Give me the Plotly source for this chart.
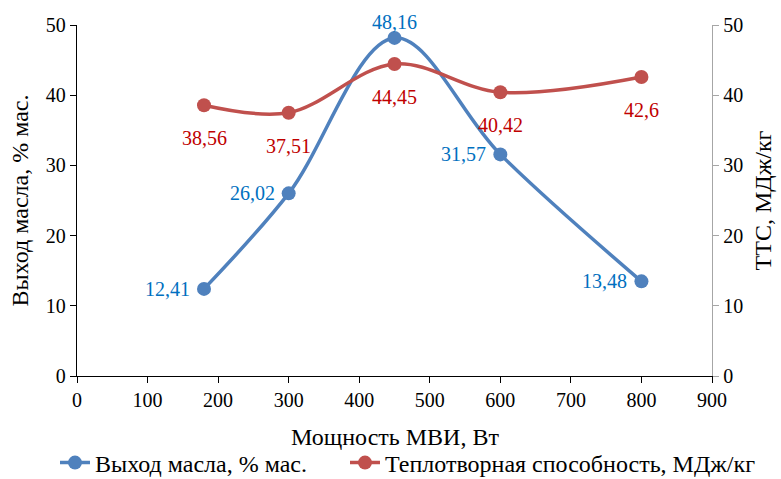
import plotly.graph_objects as go

power = [180, 300, 450, 600, 800]
oil_yield = [12.41, 26.02, 48.16, 31.57, 13.48]
heat_value = [38.56, 37.51, 44.45, 40.42, 42.6]
oil_labels = ["12,41", "26,02", "48,16", "31,57", "13,48"]
heat_labels = ["38,56", "37,51", "44,45", "40,42", "42,6"]
x_ticks = [0, 100, 200, 300, 400, 500, 600, 700, 800, 900]
y_ticks = [0, 10, 20, 30, 40, 50]
x_title = "Мощность МВИ, Вт"

FONT = "Liberation Serif, Times New Roman, serif"
BLUE = "#4F81BD"
RED = "#C0504D"
BLUE_TXT = "#0070C0"
RED_TXT = "#C00000"

fig = go.Figure()
fig.add_trace(go.Scatter(
    x=power, y=oil_yield, name="Выход масла, % мас.",
    mode="lines+markers", line=dict(color=BLUE, width=3.5, shape="spline", smoothing=1.0),
    marker=dict(color=BLUE, size=14), yaxis="y", legend="legend"))
fig.add_trace(go.Scatter(
    x=power, y=heat_value, name="Теплотворная способность, МДж/кг",
    mode="lines+markers", line=dict(color=RED, width=3.5, shape="spline", smoothing=1.0),
    marker=dict(color=RED, size=14), yaxis="y2", legend="legend2"))

anns = []
for i, (xv, yv, t) in enumerate(zip(power, oil_yield, oil_labels)):
    if i == 2:
        anns.append(dict(x=xv, y=yv, xref="x", yref="y", text=t, showarrow=False,
                         xanchor="center", yanchor="middle", yshift=16,
                         font=dict(family=FONT, size=20, color=BLUE_TXT)))
    else:
        anns.append(dict(x=xv, y=yv, xref="x", yref="y", text=t, showarrow=False,
                         xanchor="right", yanchor="middle", xshift=-12,
                         font=dict(family=FONT, size=20, color=BLUE_TXT)))
for xv, yv, t in zip(power, heat_value, heat_labels):
    anns.append(dict(x=xv, y=yv, xref="x", yref="y2", text=t, showarrow=False,
                     xanchor="center", yanchor="middle", yshift=-33,
                     font=dict(family=FONT, size=20, color=RED_TXT)))
# x-axis title placed below the tick labels
anns.append(dict(x=0.5, y=0, xref="paper", yref="paper", text=x_title, showarrow=False,
                 xanchor="center", yanchor="middle", yshift=-61,
                 font=dict(family=FONT, size=24, color="#000000")))

leg_common = dict(orientation="h", xanchor="left", xref="container",
                  y=16 / 479, yanchor="middle", yref="container",
                  font=dict(family=FONT, size=24), bgcolor="rgba(0,0,0,0)")

fig.update_layout(
    width=781, height=479,
    margin=dict(l=77, r=69, t=25, b=103, autoexpand=False),
    paper_bgcolor="white", plot_bgcolor="white",
    font=dict(family=FONT, size=20, color="#000000"),
    showlegend=True,
    legend=dict(x=55 / 781, **leg_common),
    legend2=dict(x=345 / 781, **leg_common),
    annotations=anns,
    xaxis=dict(range=[0, 900], tickvals=x_ticks, ticks="outside", ticklen=6,
               showline=True, linecolor="#000000", linewidth=1.3, tickcolor="#000000",
               showgrid=False, zeroline=False),
    yaxis=dict(range=[0, 50], tickvals=y_ticks, ticks="outside", ticklen=6,
               showline=True, linecolor="#000000", linewidth=1.3, tickcolor="#000000",
               showgrid=False, zeroline=False,
               title=dict(text="Выход масла, % мас.", standoff=10, font=dict(size=24))),
    yaxis2=dict(range=[0, 50], tickvals=y_ticks, ticks="outside", ticklen=6,
                overlaying="y", side="right",
                showline=True, linecolor="#A6A6A6", linewidth=1.3, tickcolor="#A6A6A6",
                showgrid=False, zeroline=False,
                title=dict(text="ТТС, МДж/кг", standoff=12, font=dict(size=24))),
)

fig.write_html("out.html", config={"displayModeBar": False},
               post_script="document.body.style.margin='0';document.body.style.overflow='hidden';")
